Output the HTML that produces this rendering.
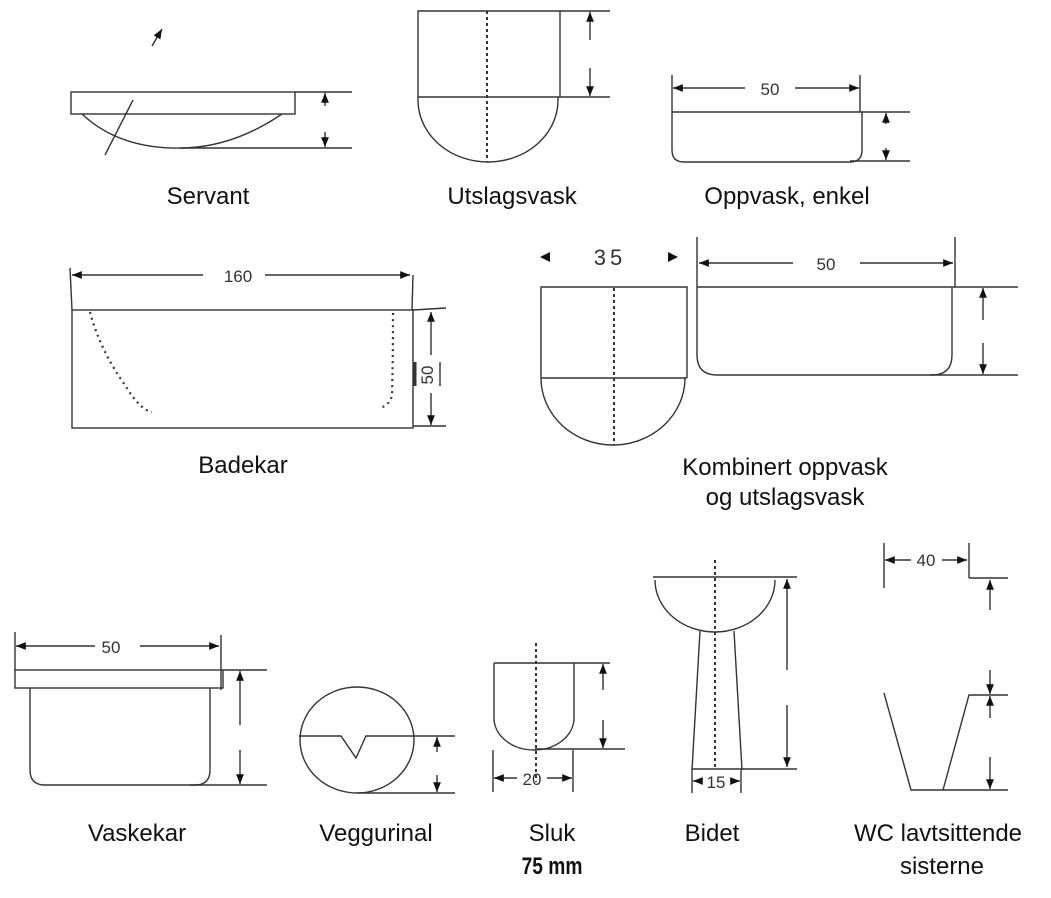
<!DOCTYPE html>
<html><head><meta charset="utf-8"><style>
html,body{margin:0;padding:0;background:#fff;}
svg{display:block;}
.l{font-family:"Liberation Sans",sans-serif;font-size:24px;fill:#111;text-anchor:middle;}
.d{font-family:"Liberation Sans",sans-serif;font-size:17px;fill:#333;text-anchor:middle;}
</style></head><body>
<svg width="1051" height="898" viewBox="0 0 1051 898" xmlns="http://www.w3.org/2000/svg">
<defs>
<marker id="a" viewBox="0 0 10 10" refX="10" refY="5" markerWidth="7" markerHeight="7" orient="auto-start-reverse"><path d="M0,1 L10,5 L0,9 z" fill="#111"/></marker>
</defs>
<g fill="none" stroke="#333" stroke-width="1.4">
<!-- Servant -->
<rect x="71" y="92" width="224" height="22"/>
<path d="M82,114 Q120,150 185,148 Q235,146 282,114"/>
<line x1="105" y1="155" x2="133" y2="100"/>
<line x1="152" y1="46" x2="162" y2="29" marker-end="url(#a)"/>
<line x1="295" y1="92" x2="352" y2="92"/>
<line x1="180" y1="148" x2="352" y2="148"/>
<line x1="325" y1="106" x2="325" y2="93" marker-end="url(#a)"/>
<line x1="325" y1="132" x2="325" y2="147" marker-end="url(#a)"/>
<!-- Utslagsvask -->
<path d="M418,97 L418,11 L560,11 L560,97"/>
<line x1="418" y1="97" x2="610" y2="97"/>
<path d="M418,97 L418,100 A70,62 0 0 0 558,100 L558,97"/>
<line x1="560" y1="11" x2="610" y2="11"/>
<line x1="487" y1="11" x2="487" y2="162" stroke-dasharray="3,3" stroke-width="2"/>
<line x1="590" y1="40" x2="590" y2="12" marker-end="url(#a)"/>
<line x1="590" y1="68" x2="590" y2="96" marker-end="url(#a)"/>
<!-- Oppvask enkel -->
<line x1="672" y1="75" x2="672" y2="112"/><line x1="860" y1="75" x2="860" y2="112"/>
<line x1="745" y1="88" x2="673" y2="88" marker-end="url(#a)"/>
<line x1="795" y1="88" x2="859" y2="88" marker-end="url(#a)"/>
<path d="M672,112 L672,150 Q672,162 684,162 L850,162 Q862,162 862,150 L862,112"/>
<line x1="672" y1="112" x2="910" y2="112"/>
<line x1="850" y1="161" x2="910" y2="161"/>
<line x1="886" y1="124" x2="886" y2="113" marker-end="url(#a)"/>
<line x1="886" y1="148" x2="886" y2="160" marker-end="url(#a)"/>
<!-- Badekar -->
<line x1="70" y1="268" x2="72" y2="310"/><line x1="413" y1="275" x2="412" y2="310"/>
<line x1="203" y1="275" x2="72" y2="275" marker-end="url(#a)"/>
<line x1="265" y1="275" x2="410" y2="275" marker-end="url(#a)"/>
<rect x="72" y="310" width="341" height="118"/>
<line x1="413" y1="310" x2="446" y2="308"/>
<line x1="413" y1="426" x2="446" y2="426"/>
<path d="M90,312 Q100,350 125,385 Q140,410 152,412" stroke-dasharray="2,4" stroke-width="2.2"/>
<path d="M393,313 Q393,360 392,395 Q390,405 380,408" stroke-dasharray="2,4" stroke-width="2.2"/>
<line x1="431" y1="355" x2="431" y2="312" marker-end="url(#a)"/>
<line x1="431" y1="393" x2="431" y2="425" marker-end="url(#a)"/>
<line x1="415" y1="362" x2="415" y2="386" stroke-width="3"/>
<line x1="440" y1="362" x2="440" y2="386"/>
<!-- Kombinert -->
<path d="M541,378 L541,287 L687,287 L687,378"/>
<line x1="541" y1="378" x2="687" y2="378"/>
<path d="M541,378 A72,67 0 0 0 685,378"/>
<line x1="614" y1="288" x2="614" y2="445" stroke-dasharray="3,3" stroke-width="2"/>
<line x1="697" y1="237" x2="697" y2="287"/><line x1="955" y1="237" x2="955" y2="287"/>
<line x1="793" y1="263" x2="699" y2="263" marker-end="url(#a)"/>
<line x1="860" y1="263" x2="953" y2="263" marker-end="url(#a)"/>
<path d="M697,287 L697,355 Q697,375 717,375 L932,375 Q952,375 952,355 L952,287"/>
<line x1="697" y1="287" x2="1018" y2="287"/>
<line x1="930" y1="375" x2="1018" y2="375"/>
<line x1="983" y1="320" x2="983" y2="288" marker-end="url(#a)"/>
<line x1="983" y1="343" x2="983" y2="374" marker-end="url(#a)"/>
<!-- Vaskekar -->
<line x1="15" y1="632" x2="15" y2="670"/><line x1="221" y1="635" x2="221" y2="690"/>
<line x1="95" y1="646" x2="16" y2="646" marker-end="url(#a)"/>
<line x1="140" y1="646" x2="219" y2="646" marker-end="url(#a)"/>
<rect x="15" y="670" width="208" height="18"/>
<path d="M30,688 L30,770 Q30,785 45,785 L195,785 Q210,785 210,770 L210,688"/>
<line x1="223" y1="670" x2="267" y2="670"/>
<line x1="190" y1="785" x2="267" y2="785"/>
<line x1="240" y1="725" x2="240" y2="671" marker-end="url(#a)"/>
<line x1="240" y1="750" x2="240" y2="784" marker-end="url(#a)"/>
<!-- Veggurinal -->
<ellipse cx="357" cy="740" rx="57" ry="53"/>
<path d="M299,736 L341,736 L356,758 L366,736 L455,736"/>
<line x1="358" y1="793" x2="455" y2="793"/>
<line x1="437" y1="752" x2="437" y2="737" marker-end="url(#a)"/>
<line x1="437" y1="775" x2="437" y2="792" marker-end="url(#a)"/>
<!-- Sluk -->
<path d="M494,663 L494,718 A40,32 0 0 0 574,718 L574,663"/>
<line x1="494" y1="663" x2="610" y2="663"/>
<line x1="535" y1="749" x2="625" y2="749"/>
<line x1="536" y1="643" x2="536" y2="782" stroke-dasharray="3,3" stroke-width="2"/>
<line x1="603" y1="690" x2="603" y2="664" marker-end="url(#a)"/>
<line x1="603" y1="720" x2="603" y2="748" marker-end="url(#a)"/>
<line x1="493" y1="750" x2="493" y2="792"/><line x1="573" y1="750" x2="573" y2="792"/>
<line x1="517" y1="778" x2="494" y2="778" marker-end="url(#a)"/>
<line x1="547" y1="778" x2="572" y2="778" marker-end="url(#a)"/>
<!-- Bidet -->
<line x1="653" y1="577" x2="797" y2="577"/>
<path d="M655,580 A60,52 0 0 0 775,580"/>
<line x1="700" y1="631" x2="692" y2="770"/>
<line x1="734" y1="631" x2="742" y2="770"/>
<line x1="692" y1="769" x2="797" y2="769"/>
<line x1="715" y1="560" x2="715" y2="768" stroke-dasharray="3,3" stroke-width="2"/>
<line x1="787" y1="670" x2="787" y2="579" marker-end="url(#a)"/>
<line x1="787" y1="705" x2="787" y2="767" marker-end="url(#a)"/>
<line x1="692" y1="770" x2="692" y2="793"/><line x1="741" y1="770" x2="741" y2="793"/>
<line x1="702" y1="781" x2="693" y2="781" marker-end="url(#a)"/>
<line x1="731" y1="781" x2="740" y2="781" marker-end="url(#a)"/>
<!-- WC -->
<line x1="884" y1="543" x2="884" y2="588"/><line x1="969" y1="543" x2="969" y2="578"/>
<line x1="969" y1="578" x2="1008" y2="578"/>
<line x1="911" y1="560" x2="885" y2="560" marker-end="url(#a)"/>
<line x1="942" y1="560" x2="967" y2="560" marker-end="url(#a)"/>
<line x1="990" y1="610" x2="990" y2="580" marker-end="url(#a)"/>
<line x1="990" y1="670" x2="990" y2="694" marker-end="url(#a)"/>
<path d="M884,693 L911,790 L1008,790"/>
<path d="M943,790 L969,695 L1008,695"/>
<line x1="990" y1="718" x2="990" y2="696" marker-end="url(#a)"/>
<line x1="990" y1="757" x2="990" y2="789" marker-end="url(#a)"/>
</g>
<!-- dimension texts -->
<text class="d" x="770" y="95">50</text>
<text class="d" x="238" y="282" font-size="19">160</text>
<text x="610" y="265" font-family="Liberation Sans,sans-serif" font-size="22" fill="#333" text-anchor="middle" letter-spacing="4">35</text>
<path d="M540,257 L550,252 L550,262 z M678,257 L668,252 L668,262 z" fill="#111"/>
<text class="d" x="826" y="270" font-size="22">50</text>
<text class="d" x="0" y="0" font-size="16" transform="translate(433,375) rotate(-90)">50</text>
<text class="d" x="111" y="653">50</text>
<text class="d" x="532" y="785" font-size="18">20</text>
<text class="d" x="716" y="788" font-size="20">15</text>
<text class="d" x="926" y="566" font-size="17">40</text>
<!-- labels -->
<text class="l" x="208" y="204">Servant</text>
<text class="l" x="512" y="204">Utslagsvask</text>
<text class="l" x="787" y="204">Oppvask, enkel</text>
<text class="l" x="243" y="473">Badekar</text>
<text class="l" x="785" y="475">Kombinert oppvask</text>
<text class="l" x="785" y="505">og utslagsvask</text>
<text class="l" x="137" y="841">Vaskekar</text>
<text class="l" x="376" y="841">Veggurinal</text>
<text class="l" x="552" y="841">Sluk</text>
<text class="l" x="552" y="874" font-size="21" font-weight="bold" transform="translate(552,0) scale(0.8,1) translate(-552,0)">75 mm</text>
<text class="l" x="712" y="841">Bidet</text>
<text class="l" x="938" y="841">WC lavtsittende</text>
<text class="l" x="942" y="874">sisterne</text>
</svg>
</body></html>
